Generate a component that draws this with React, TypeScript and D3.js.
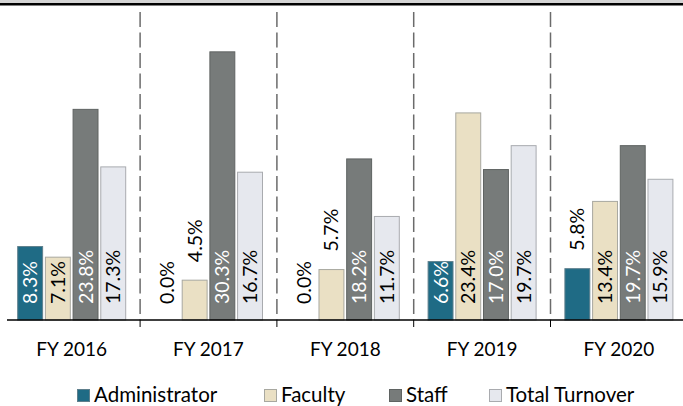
import React from "react";
import * as d3 from "d3";

const categories = ["FY 2016", "FY 2017", "FY 2018", "FY 2019", "FY 2020"];
const seriesNames = ["Administrator", "Faculty", "Staff", "Total Turnover"];
const administrator = [8.3, 0.0, 0.0, 6.6, 5.8];
const faculty = [7.1, 4.5, 5.7, 23.4, 13.4];
const staff = [23.8, 30.3, 18.2, 17.0, 19.7];
const totalTurnover = [17.3, 16.7, 11.7, 19.7, 15.9];
const seriesValues = [administrator, faculty, staff, totalTurnover];

const fills = ["#1F6B85", "#EAE0C4", "#777B7A", "#E6E8EE"];
const strokes = ["#5E7F8C", "#A8A8A0", "#5F6362", "#A9ABAF"];
const labelColors = ["#FFFFFF", "#000000", "#FFFFFF", "#000000"];
const legendX = [77, 264, 389, 489];

const W = 683;
const H = 406;
const FONT = "Lato, 'Open Sans', sans-serif";

export default function App() {
  const baseY = 320;
  const x0 = d3.scaleBand<string>().domain(categories).range([3.3, 687.3]).padding(0);
  const x1 = d3
    .scaleBand<string>()
    .domain(seriesNames)
    .range([14.4, x0.bandwidth() - 14.4])
    .paddingInner(0.1);
  const y = d3.scaleLinear().domain([0, 35]).range([baseY, 10.25]);

  const boundaries = categories.slice(1).map((c) => x0(c) as number);

  return (
    <svg width={W} height={H} style={{ position: "absolute", left: 0, top: 0 }}>
      <rect x={0} y={0} width={W} height={3} fill="#D4D4D4" />
      <rect x={0} y={3} width={W} height={2.5} fill="#000000" />

      {boundaries.map((bx, i) => (
        <g key={"sep" + i}>
          <line
            x1={bx}
            x2={bx}
            y1={12}
            y2={baseY}
            stroke="#6B6B6B"
            strokeWidth={1.5}
            strokeDasharray="15,5.5"
          />
          <line x1={bx} x2={bx} y1={baseY} y2={baseY + 7} stroke="#000" strokeWidth={1} />
        </g>
      ))}

      {categories.map((cat, ci) => (
        <g key={cat} transform={`translate(${x0(cat)},0)`}>
          {seriesNames.map((s, si) => {
            const v = seriesValues[si][ci];
            const bx = x1(s) as number;
            const bw = x1.bandwidth();
            const top = y(v);
            const h = baseY - top;
            const cx = bx + bw / 2;
            const inside = h >= 55;
            const ly = inside || v === 0 ? baseY - 16 : top - 18;
            const color = inside ? labelColors[si] : "#000000";
            return (
              <g key={s}>
                {v > 0 && (
                  <rect
                    x={bx}
                    y={top}
                    width={bw}
                    height={h}
                    fill={fills[si]}
                    stroke={strokes[si]}
                    strokeWidth={1}
                  />
                )}
                <text
                  transform={`translate(${cx},${ly}) rotate(-90)`}
                  dy="0.36em"
                  fontFamily={FONT}
                  fontSize={19.5}
                  fill={color}
                  textAnchor="start"
                >
                  {v.toFixed(1) + "%"}
                </text>
              </g>
            );
          })}
          <text
            x={x0.bandwidth() / 2}
            y={356}
            textAnchor="middle"
            fontFamily={FONT}
            fontSize={19}
            fill="#000"
          >
            {cat}
          </text>
        </g>
      ))}

      <line x1={7} x2={683} y1={baseY} y2={baseY} stroke="#000" strokeWidth={1.3} />

      {seriesNames.map((s, si) => (
        <g key={"leg" + s} transform={`translate(${legendX[si]},0)`}>
          <rect
            x={0.5}
            y={389.5}
            width={12}
            height={12}
            fill={fills[si]}
            stroke={strokes[si]}
            strokeWidth={1}
          />
          <text x={17} y={401.5} fontFamily={FONT} fontSize={20.5} fill="#000">
            {s}
          </text>
        </g>
      ))}
    </svg>
  );
}
